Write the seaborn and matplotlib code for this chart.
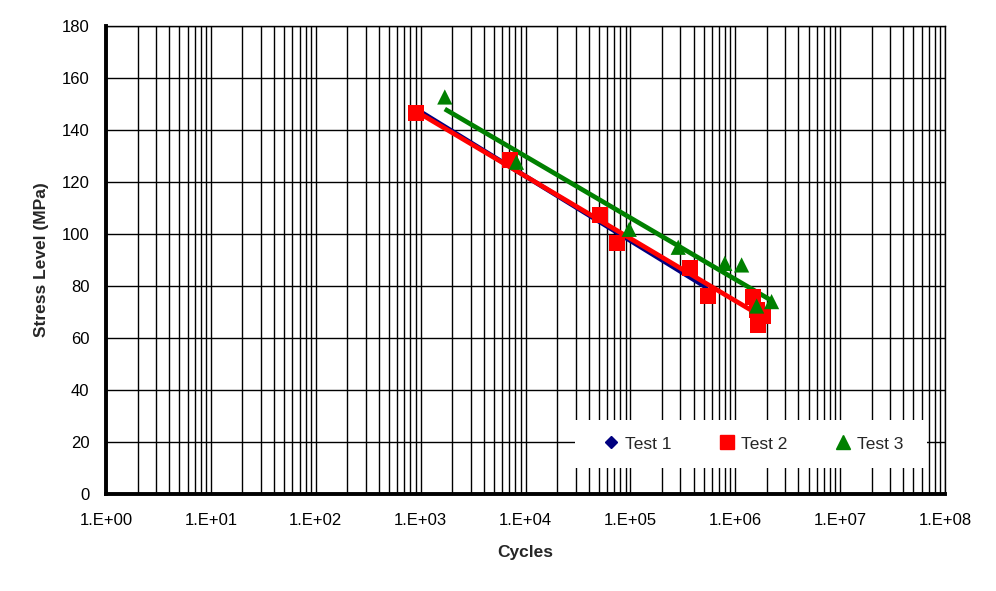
import numpy as np
import pandas as pd
import matplotlib
matplotlib.use("Agg")
import matplotlib.pyplot as plt
import matplotlib.ticker as mticker
from matplotlib.lines import Line2D
from matplotlib.patches import Rectangle
import seaborn as sns

# ---- data ----
test1_cycles = [900, 7100, 51000, 74000, 369000, 548000]
test1_stress = [146.5, 128.5, 107.3, 96.5, 86.9, 76.2]

test2_cycles = [900, 7100, 51000, 74000, 369000, 548000, 1470000, 1600000, 1640000, 1830000]
test2_stress = [146.5, 128.5, 107.3, 96.5, 86.9, 76.2, 75.8, 70.8, 65.0, 68.5]

test3_cycles = [1700, 8200, 97500, 286000, 795000, 1150000, 1600000, 2220000]
test3_stress = [152.7, 127.6, 101.8, 94.9, 88.7, 88.1, 72.3, 74.0]

series_names = ["Test 1", "Test 2", "Test 3"]
series_colors = ["#000080", "#FF0000", "#008000"]
series_markers = ["D", "s", "^"]

x_tick_labels = ["1.E+00", "1.E+01", "1.E+02", "1.E+03", "1.E+04",
                 "1.E+05", "1.E+06", "1.E+07", "1.E+08"]
y_ticks = [0, 20, 40, 60, 80, 100, 120, 140, 160, 180]

df = pd.concat([
    pd.DataFrame({"Cycles": test1_cycles, "Stress": test1_stress, "Series": "Test 1"}),
    pd.DataFrame({"Cycles": test2_cycles, "Stress": test2_stress, "Series": "Test 2"}),
    pd.DataFrame({"Cycles": test3_cycles, "Stress": test3_stress, "Series": "Test 3"}),
], ignore_index=True)

sns.set_theme(style="white")
plt.rcParams["font.family"] = ["Liberation Sans", "DejaVu Sans"]

fig = plt.figure(figsize=(9.96, 5.91), dpi=100)
ax = fig.add_axes([106 / 996, 97 / 591, 839 / 996, 468 / 591])

ax.set_xscale("log")
ax.set_xlim(1, 1e8)
ax.set_ylim(0, 180)

# grid
ax.set_axisbelow(True)
ax.xaxis.set_major_locator(mticker.LogLocator(base=10, numticks=20))
ax.xaxis.set_minor_locator(mticker.LogLocator(base=10, subs=np.arange(2, 10), numticks=100))
ax.grid(True, which="major", axis="both", color="black", linewidth=1.0)
ax.grid(True, which="minor", axis="x", color="black", linewidth=1.0)

palette = dict(zip(series_names, series_colors))
marker_map = dict(zip(series_names, series_markers))
size_map = {"Test 1": 40, "Test 2": 130, "Test 3": 120}

# trend lines (logarithmic fit of each series)
for name in series_names:
    sub = df[df["Series"] == name]
    lx = np.log10(sub["Cycles"].values)
    k, b = np.polyfit(lx, sub["Stress"].values, 1)
    xs = np.logspace(lx.min(), lx.max(), 50)
    ax.plot(xs, k * np.log10(xs) + b, color=palette[name], linewidth=3.4,
            solid_capstyle="butt", zorder=3)

for name in series_names:
    sub = df[df["Series"] == name]
    sns.scatterplot(data=sub, x="Cycles", y="Stress", color=palette[name],
                    marker=marker_map[name], s=size_map[name],
                    edgecolor="none", linewidth=0, ax=ax, zorder=4, legend=False)

ax.set_xticks([10.0 ** i for i in range(9)])
ax.set_xticklabels(x_tick_labels)
ax.xaxis.set_minor_formatter(mticker.NullFormatter())
ax.set_yticks(y_ticks)
ax.set_yticklabels([str(v) for v in y_ticks])
ax.tick_params(axis="both", which="both", length=0, labelsize=12, colors="black")
ax.tick_params(axis="x", pad=14)
ax.tick_params(axis="y", pad=12)

ax.set_xlabel("Cycles", fontsize=12.5, fontweight="bold", labelpad=12)
ax.set_ylabel("Stress Level (MPa)", fontsize=12.5, fontweight="bold", labelpad=9)

for side in ["left", "bottom"]:
    ax.spines[side].set_linewidth(2.8)
    ax.spines[side].set_color("black")
for side in ["top", "right"]:
    ax.spines[side].set_linewidth(1.0)
    ax.spines[side].set_color("black")

# legend: white box covering the grid, frameless legend on top
ax.add_patch(Rectangle((0.559, 0.0556), 0.42, 0.1026, transform=ax.transAxes,
                       facecolor="white", edgecolor="none", zorder=5))
handles = [Line2D([], [], linestyle="none", marker=m, color=c, markersize=ms)
           for m, c, ms in zip(series_markers, series_colors, [6.5, 10, 9.5])]
leg = ax.legend(handles, series_names, loc="center",
                bbox_to_anchor=(0.772, 0.107), ncol=3, frameon=False,
                fontsize=12.5, handlelength=0.8, handletextpad=0.4,
                columnspacing=2.8)
leg.set_zorder(6)

fig.savefig("out.png", dpi=100)
